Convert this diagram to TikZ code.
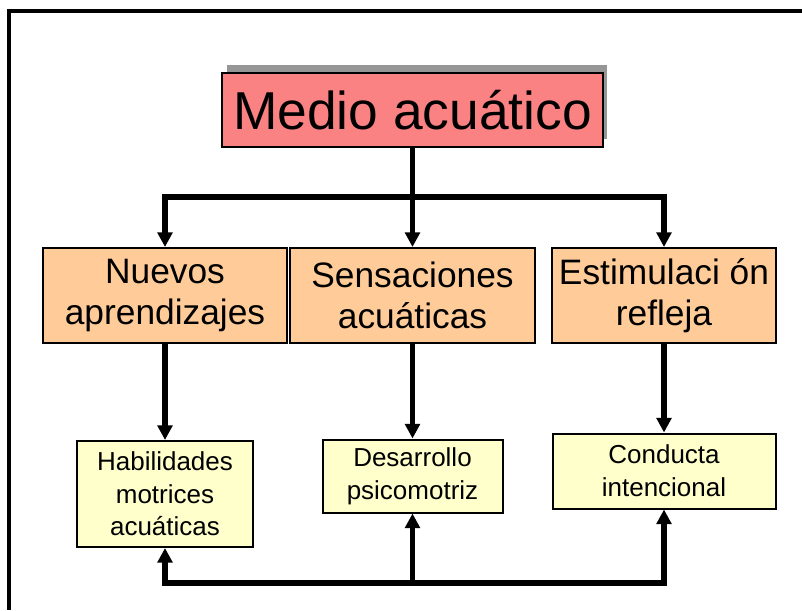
\documentclass[tikz,border=0pt]{standalone}
\usepackage{fontspec}
\setmainfont{Liberation Sans}
\usetikzlibrary{arrows.meta}

\definecolor{medioPink}{RGB}{250,130,130}
\definecolor{ramaOrange}{RGB}{255,204,153}
\definecolor{efectoYellow}{RGB}{255,255,204}
\definecolor{sombraGray}{RGB}{150,150,150}

\begin{document}
\begin{tikzpicture}[x=0.75pt,y=0.75pt,yscale=-1,xscale=1,
  caja/.style={draw=black,line width=1.5pt,inner sep=0pt,align=center},
  enlace/.style={line width=3.8pt,-{Triangle[length=11pt,width=11pt]}},
  linea/.style={line width=3.8pt}]
\useasboundingbox (0,0) rectangle (802,610);

%Frame lines
\draw [line width=2.4pt]  (802,11) -- (9,11) -- (9,610) ;

%Shadow of the title box
\fill [sombraGray]  (227,65) rectangle (607,139) ;

% Text Node
\node (medio) [caja,fill=medioPink,minimum width=285.75pt,minimum height=55.5pt,font=\fontsize{40}{46}\selectfont] at (412.5,110) {Medio acuático};

% Text Node
\node (nuevos) [caja,fill=ramaOrange,minimum width=183pt,minimum height=71.25pt,font=\fontsize{26.5}{30.5}\selectfont] at (165,295.5) {Nuevos\\aprendizajes};
% Text Node
\node (sensa) [caja,fill=ramaOrange,minimum width=183.75pt,minimum height=71.25pt,font=\fontsize{26.5}{30.5}\selectfont] at (412.5,295.5) {Sensaciones\\acuáticas};
% Text Node
\node (estim) [caja,fill=ramaOrange,minimum width=168pt,minimum height=71.25pt,font=\fontsize{26.5}{30.5}\selectfont] at (664,295.5) {Estimulaci ón\\refleja};

% Text Node
\node (habil) [caja,fill=efectoYellow,minimum width=132pt,minimum height=79.5pt,font=\fontsize{19.5}{24.5}\selectfont] at (165,494) {Habilidades\\motrices\\acuáticas};
% Text Node
\node (desarr) [caja,fill=efectoYellow,minimum width=135pt,minimum height=54.75pt,font=\fontsize{19.5}{24.5}\selectfont] at (412.5,476) {Desarrollo\\psicomotriz};
% Text Node
\node (conduc) [caja,fill=efectoYellow,minimum width=167.25pt,minimum height=56.25pt,font=\fontsize{19.5}{24.5}\selectfont] at (664,471) {Conducta\\intencional};

%Upper bus
\coordinate (busArriba) at (412.5,197);
\draw [linea]  (medio.south) -- (busArriba) ;
\draw [enlace]  (busArriba) -| (nuevos.north) ;
\draw [enlace]  (busArriba) -- (sensa.north) ;
\draw [enlace]  (busArriba) -| (estim.north) ;

%Downward links
\draw [enlace]  (nuevos.south) -- (habil.north) ;
\draw [enlace]  (sensa.south) -- (desarr.north) ;
\draw [enlace]  (estim.south) -- (conduc.north) ;

%Lower bus
\coordinate (busAbajo) at (412.5,583);
\draw [enlace]  (busAbajo) -| (habil.south) ;
\draw [enlace]  (busAbajo) -- (desarr.south) ;
\draw [enlace]  (busAbajo) -| (conduc.south) ;

\end{tikzpicture}
\end{document}
